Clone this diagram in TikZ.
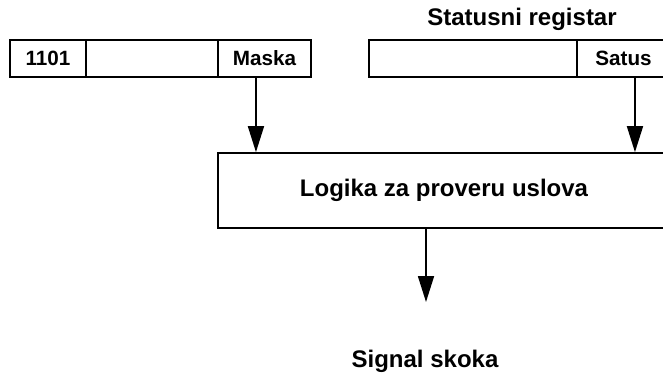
\documentclass[tikz,border=0pt]{standalone}
\usepackage{fontspec}
\setmainfont{Liberation Sans}
\usepackage{tikz}
\usetikzlibrary{arrows.meta,positioning}
\definecolor{Ink}{HTML}{000000}
\tikzset{
  cell/.style={draw=Ink,line width=1.3pt,minimum height=27.75pt,inner sep=0pt,
    font=\fontsize{15.5}{18}\selectfont\bfseries,text=Ink},
  bigtext/.style={inner sep=0pt,font=\fontsize{18}{21}\selectfont\bfseries,text=Ink},
  flow/.style={draw=Ink,line width=1.3pt,-{Triangle[length=19.5pt,width=12pt]}}
}
\newcommand{\regcell}[4]{%
  \node[cell,minimum width=#3] (#1) at (#2,58.5) {#4};
}

\begin{document}
\begin{tikzpicture}[x=0.75pt,y=-0.75pt]
      \clip (0,0) rectangle (663,374);

      % instrukcija
      \regcell{kod}{48}{57pt}{1101}
      \regcell{prazno}{152}{99pt}{}
      \regcell{maska}{264.5}{69.75pt}{Maska}

      % statusni registar
      \node[bigtext] (naslov) at (522,19) {Statusni registar};
      \regcell{statprazno}{473}{156pt}{}
      \regcell{satus}{623.5}{69.75pt}{Satus}

      \node[cell,minimum width=339pt,minimum height=56.25pt,
            font=\fontsize{18}{21}\selectfont\bfseries] (logika) at (444,190.5)
            {Logika za proveru uslova};

      \node[bigtext,anchor=base] (signal) at (425,367) {Signal skoka};
      \coordinate (vrh) at (426,302);

      \draw[flow] ([xshift=-6.4pt]maska.south) -- ([xshift=-6.4pt]maska.south |- logika.north);
      \draw[flow] ([xshift=8.6pt]satus.south) -- ([xshift=8.6pt]satus.south |- logika.north);
      \draw[flow] (logika.south -| vrh) -- (vrh);
    \end{tikzpicture}
\end{document}
